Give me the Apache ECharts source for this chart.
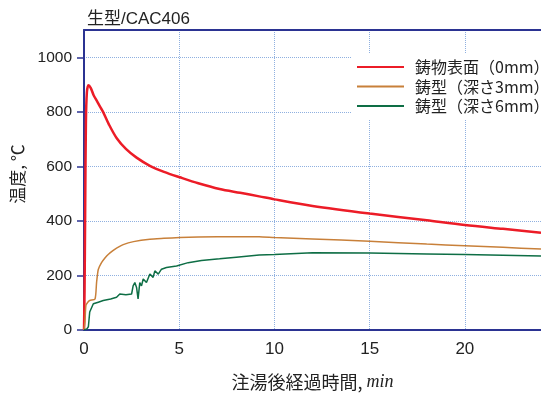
<!DOCTYPE html>
<html><head><meta charset="utf-8">
<script src="https://cdn.jsdelivr.net/npm/echarts@6/dist/echarts.min.js"></script>
<style>html,body{margin:0;padding:0;background:#fff}#c{width:541px;height:396px}</style>
</head><body><div id="c"></div>
<script>
const seriesNames = ['鋳物表面（0mm）', '鋳型（深さ3mm）', '鋳型（深さ6mm）'];
const redT = [0, 0.03, 0.06, 0.1, 0.15, 0.23, 0.35, 0.5, 0.66, 0.85, 1.0, 1.3, 1.71, 2.2, 2.76, 3.46, 4.2, 5.03, 6.0, 7.12, 8.2, 9.2, 10, 12, 15, 18, 20, 22, 24];
const redV = [0, 150, 420, 760, 870, 897, 888, 862, 842, 818, 800, 755, 704, 664, 632, 602, 580, 560, 538, 517, 503, 490, 479, 455, 427, 402, 385, 371, 357];
const orgT = [0, 0.05, 0.1, 0.2, 0.3, 0.58, 0.66, 0.75, 0.92, 1.1, 1.27, 1.5, 1.71, 2.06, 2.6, 3.46, 4.2, 5.03, 6, 8, 9.2, 10, 12, 15, 18, 20, 22, 24];
const orgV = [0, 30, 90, 102, 108, 114, 174, 222, 247, 264, 277, 290, 300, 313, 324, 333, 336, 339, 341, 342, 342, 339, 334, 325, 315, 309, 303, 297];
const grnT = [0, 0.05, 0.15, 0.23, 0.3, 0.49, 0.75, 1.01, 1.4, 1.71, 1.88, 1.97, 2.2, 2.5, 2.58, 2.67, 2.76, 2.84, 2.93, 3.02, 3.11, 3.28, 3.46, 3.63, 3.72, 3.9, 4.07, 4.33, 4.86, 5.47, 5.56, 6.17, 7.12, 8, 9.2, 10, 12, 15, 18, 20, 22, 24];
const grnV = [0, 0, 4, 12, 66, 96, 102, 108, 114, 120, 132, 126, 129, 132, 162, 174, 156, 114, 174, 162, 187, 174, 205, 193, 217, 205, 223, 229, 235, 247, 241, 255, 261, 267, 275, 277, 283, 282, 279, 277, 274, 271];
const xTicks = [0, 5, 10, 15, 20];
const yTicks = [0, 200, 400, 600, 800, 1000];

const zip = (t, v) => t.map((x, i) => [x, v[i]]);
const axisBlue = '#2b3392';
const gridBlue = '#8fb0e0';
const latin = "'Liberation Sans', 'Noto Sans CJK JP', sans-serif";
const cjk = "'Noto Sans CJK JP', sans-serif";
const chart = echarts.init(document.getElementById('c'), null, {renderer: 'canvas'});
chart.setOption({
  animation: false,
  title: {text: '生型/CAC406', left: 82, top: 6, textStyle: {fontSize: 17, fontWeight: 'normal', color: '#222', fontFamily: latin}},
  grid: {left: 84, top: 30, right: 0, bottom: 61},
  legend: {
    data: seriesNames, orient: 'vertical', left: 352, top: 53, itemWidth: 47, itemHeight: 2, itemGap: 3.5,
    icon: 'rect',
    backgroundColor: '#fff', padding: [6, 8, 6, 5],
    textStyle: {fontSize: 16, lineHeight: 16, color: '#222', fontFamily: cjk, padding: [0, 0, 0, 6]}
  },
  xAxis: [{
    type: 'value', min: 0, max: 24, interval: 5,
    name: '{a|注湯後経過時間, }{b|min}', nameLocation: 'middle', nameGap: 43,
    nameTextStyle: {rich: {a: {fontSize: 18, color: '#222', fontFamily: cjk}, b: {fontSize: 18, fontStyle: 'italic', fontFamily: "'Liberation Serif', serif", color: '#222'}}},
    axisLine: {lineStyle: {color: axisBlue, width: 2}}, axisTick: {show: false},
    axisLabel: {fontSize: 17, color: '#222', margin: 11, fontFamily: latin, showMaxLabel: false},
    splitLine: {show: true, lineStyle: {color: gridBlue, type: 'dotted', width: 1}}
  }, {
    type: 'value', position: 'top', min: 0, max: 24,
    axisLine: {show: true, lineStyle: {color: axisBlue, width: 2}}, axisTick: {show: false}, axisLabel: {show: false}, splitLine: {show: false}
  }],
  yAxis: {
    type: 'value', min: 0, max: 1100, interval: 200,
    name: '{a|温度, }{b|℃}', nameLocation: 'middle', nameGap: 58,
    nameTextStyle: {padding: [0, 0, 0, 12], rich: {a: {fontSize: 17, color: '#222', fontFamily: cjk}, b: {fontSize: 17, color: '#222', fontFamily: cjk}}},
    axisLine: {show: true, lineStyle: {color: axisBlue, width: 2}},
    axisTick: {show: true, length: 7, lineStyle: {color: axisBlue, width: 1.5}},
    axisLabel: {fontSize: 15.5, color: '#222', margin: 12, fontFamily: latin, showMaxLabel: false, formatter: v => String(v)},
    splitLine: {show: true, lineStyle: {color: gridBlue, type: 'dotted', width: 1}}
  },
  series: [
    {name: seriesNames[0], type: 'line', data: zip(redT, redV), showSymbol: false, symbol: 'none', smooth: 0.3, lineStyle: {color: '#ec1c27', width: 2.5}, itemStyle: {color: '#ec1c27'}},
    {name: seriesNames[1], type: 'line', data: zip(orgT, orgV), showSymbol: false, symbol: 'none', smooth: 0.2, lineStyle: {color: '#c8803a', width: 1.5}, itemStyle: {color: '#c8803a'}},
    {name: seriesNames[2], type: 'line', data: zip(grnT, grnV), showSymbol: false, symbol: 'none', lineStyle: {color: '#0e6e45', width: 1.5}, itemStyle: {color: '#0e6e45'}}
  ]
});
</script></body></html>
